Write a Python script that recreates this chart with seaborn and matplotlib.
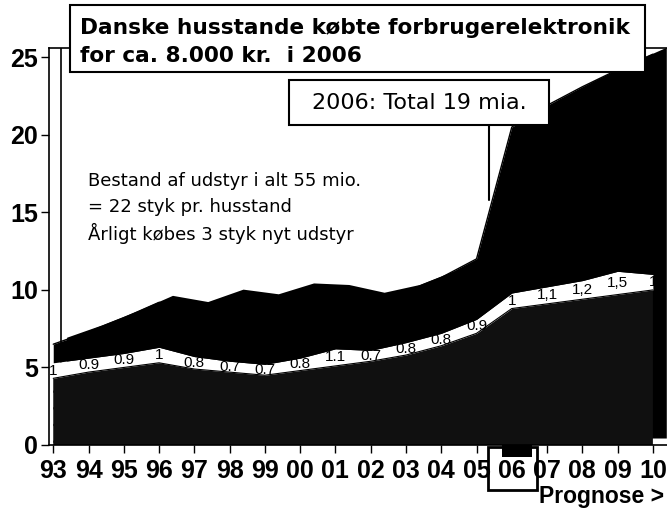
import numpy as np
import pandas as pd
import seaborn as sns
import matplotlib
matplotlib.use("Agg")
import matplotlib.pyplot as plt
from matplotlib.patches import Rectangle

# ---------------- data ----------------
years = ["93", "94", "95", "96", "97", "98", "99", "00", "01", "02",
         "03", "04", "05", "06", "07", "08", "09", "10"]
bottom_vals = [4.3, 4.7, 5.0, 5.3, 4.9, 4.7, 4.5, 4.8, 5.1, 5.4,
               5.8, 6.4, 7.2, 8.8, 9.1, 9.4, 9.7, 10.0]
band_vals = [1.0, 0.9, 0.9, 1.0, 0.8, 0.7, 0.7, 0.8, 1.1, 0.7,
             0.8, 0.8, 0.9, 1.0, 1.1, 1.2, 1.5, 1.0]
band_labels = ["1", "0.9", "0.9", "1", "0.8", "0.7", "0.7", "0.8", "1.1", "0.7",
               "0.8", "0.8", "0.9", "1", "1,1", "1,2", "1,5", "1"]
top_vals = [1.2, 1.7, 2.3, 2.9, 3.1, 4.2, 4.1, 4.4, 3.7, 3.3,
            3.3, 3.6, 3.9, 10.7, 11.7, 12.5, 13.0, 14.2]
y_ticks = [0, 5, 10, 15, 20, 25]
title_lines = ["Danske husstande købte forbrugerelektronik",
               "for ca. 8.000 kr.  i 2006"]
callout_text = "2006: Total 19 mia."
note_lines = ["Bestand af udstyr i alt 55 mio.",
              "= 22 styk pr. husstand",
              "Årligt købes 3 styk nyt udstyr"]
prognose_text = "Prognose >"

# ---------------- style ----------------
sns.set_theme(style="white")
plt.rcParams["font.family"] = ["DejaVu Sans"]
plt.rcParams["hatch.color"] = "#3c3c3c"
plt.rcParams["hatch.linewidth"] = 0.6
tick_font = dict(family=["Liberation Sans Narrow", "Liberation Sans", "DejaVu Sans"],
                 weight="bold", size=18, color="black")

W, H = 667, 515
fig = plt.figure(figsize=(W / 100, H / 100), dpi=100)
fig.patch.set_facecolor("white")


def fx(px):
    return px / W


def fy(py):
    return 1 - py / H


ax = fig.add_axes([fx(49), fy(445), fx(667) - fx(49), fy(48) - fy(445)])
ax.set_facecolor("white")

df = pd.DataFrame({"year": years, "bottom": bottom_vals, "band": band_vals,
                   "top": top_vals})
df["x"] = np.arange(len(df))
df["total"] = df["bottom"] + df["band"] + df["top"]

# pseudo-3D depth: the same total surface pushed back and up
depth_x, depth_y = 0.38, 0.45
ax.fill_between(df["x"] + depth_x, depth_y, df["total"] + depth_y,
                color="black", lw=0, zorder=1.5)

polys = ax.stackplot(df["x"], df["bottom"], df["band"], df["top"],
                     colors=["#101010", "white", "black"], linewidth=0, zorder=2)
polys[0].set_hatch("..")
polys[0].set_edgecolor("#101010")
sns.lineplot(data=df, x="x", y="total", ax=ax, color="black", lw=1, zorder=3)
sns.lineplot(data=df, x="x", y="bottom", ax=ax, color="black", lw=0.8, zorder=3)

for i, row in df.iterrows():
    ax.text(row["x"], row["bottom"] + row["band"] / 2, band_labels[i],
            ha="center", va="center", fontsize=11, color="black",
            family=["Liberation Sans", "DejaVu Sans"], zorder=4)

# back wall line (pseudo 3D)
ax.axvline(0.22, color="black", lw=1.2, zorder=1)

ax.set_xlim(-0.12, 17.4)
ax.set_ylim(0, 25.6)
ax.set_xticks(df["x"])
ax.set_xticklabels(years, **tick_font)
ax.set_yticks(y_ticks)
ax.set_yticklabels([str(v) for v in y_ticks], **tick_font)
ax.set_xlabel("")
ax.set_ylabel("")
ax.tick_params(axis="both", which="both", direction="out", length=6, width=1,
               color="black", labelcolor="black", pad=2, bottom=True, left=True)
ax.tick_params(axis="x", pad=4)
for side in ["left", "top", "bottom"]:
    ax.spines[side].set_visible(True)
    ax.spines[side].set_color("black")
    ax.spines[side].set_linewidth(1.2)
ax.spines["right"].set_visible(False)

# leader line from callout to the 2006 rise
ax.plot([12.35, 12.35], [15.8, 20.7], color="black", lw=1.5, zorder=5)

# title box
fig.add_artist(Rectangle((fx(70), fy(72)), fx(645) - fx(70), fy(5) - fy(72),
                         transform=fig.transFigure, facecolor="white",
                         edgecolor="black", lw=1.5, zorder=5))
fig.text(fx(80), fy(28), title_lines[0], ha="left", va="center", fontsize=15.6,
         weight="bold", color="black", zorder=6)
fig.text(fx(80), fy(56), title_lines[1], ha="left", va="center", fontsize=15.6,
         weight="bold", color="black", zorder=6)

# callout box
fig.add_artist(Rectangle((fx(289), fy(125)), fx(549) - fx(289), fy(80) - fy(125),
                         transform=fig.transFigure, facecolor="white",
                         edgecolor="black", lw=1.5, zorder=5))
fig.text(fx(419), fy(103), callout_text, ha="center", va="center", fontsize=16,
         color="black", zorder=6)

# note text
for k, line in enumerate(note_lines):
    fig.text(fx(88), fy(181 + 26 * k), line, ha="left", va="center", fontsize=13,
             color="black", zorder=6)

# box around the 06 label
fig.add_artist(Rectangle((fx(488), fy(490)), fx(537) - fx(488), fy(447) - fy(490),
                         transform=fig.transFigure, fill=False,
                         edgecolor="black", lw=2, zorder=5))
fig.add_artist(Rectangle((fx(502), fy(457)), fx(532) - fx(502), fy(445) - fy(457),
                         transform=fig.transFigure, facecolor="black",
                         edgecolor="black", lw=0, zorder=5))

fig.text(fx(664), fy(497), prognose_text, ha="right", va="center",
         **dict(tick_font, size=16.5))

fig.savefig("out.png", dpi=100)
